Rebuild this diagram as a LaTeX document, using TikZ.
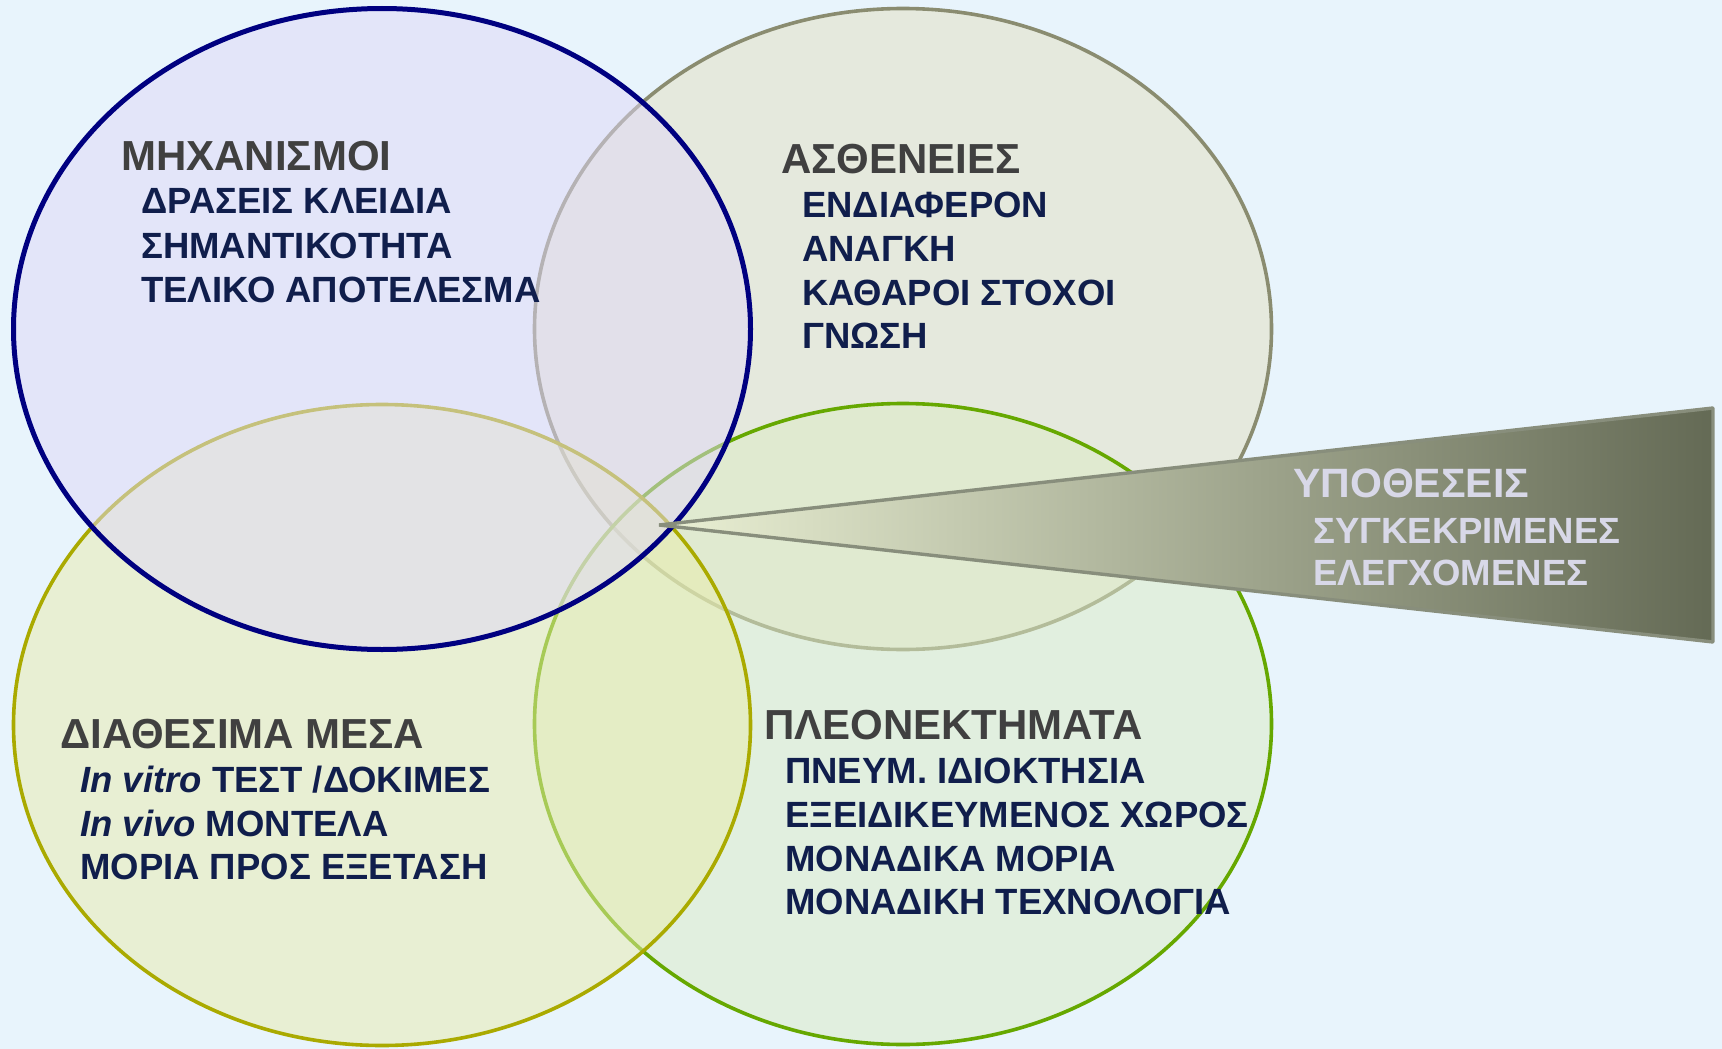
\documentclass[tikz,border=0pt]{standalone}
\usepackage{fontspec}
\setmainfont{Liberation Sans}
\usetikzlibrary{shapes.geometric}
\definecolor{bgblue}{RGB}{232,244,252}
\definecolor{mechline}{RGB}{0,0,128}
\definecolor{mechfill}{RGB}{224,216,248}
\definecolor{disline}{RGB}{138,140,112}
\definecolor{disfill}{RGB}{228,224,192}
\definecolor{resline}{RGB}{170,170,0}
\definecolor{resfill}{RGB}{232,236,172}
\definecolor{advline}{RGB}{102,168,0}
\definecolor{advfill}{RGB}{220,236,196}
\definecolor{headgrey}{RGB}{64,64,64}
\definecolor{itemnavy}{RGB}{16,30,76}
\definecolor{hyptext}{RGB}{216,216,232}
\definecolor{wedgeline}{RGB}{136,142,124}
\tikzset{x=1pt, y=-1pt, % picture measured in pixels, y going down
  ring/.style={ % Sets the properties for each circle of the diagram
    ellipse,
    minimum width=737pt,
    minimum height=641pt,
    fill opacity=0.5,
    line width=3.6pt},
  head/.style={ % Heading of each circle
    anchor=base west, inner sep=0pt,
    text=headgrey,
    font=\fontsize{42}{48}\selectfont\bfseries},
  item/.style={ % Lines under a heading
    anchor=base west, inner sep=0pt,
    text=itemnavy,
    font=\fontsize{36.5}{42}\selectfont\bfseries}}

\begin{document}
\begin{tikzpicture}
  \fill[bgblue] (0,0) rectangle (1722,1049);
  \useasboundingbox (0,0) rectangle (1722,1049);
  % the four circles
  \node[ring, draw=disline, fill=disfill] (dis) at (903,329) {};
  \node[ring, draw=advline, fill=advfill] (adv) at (903,724) {};
  \node[ring, draw=resline, fill=resfill] (res) at (382,725) {};
  \node[ring, draw=mechline, fill=mechfill, line width=5pt] (mech) at (382,329) {};
  % the wedge
  \coordinate (apex) at (659,525);
  \shadedraw[left color={rgb,255:red,234;green,240;blue,212},
    middle color={rgb,255:red,184;green,192;blue,160},
    right color={rgb,255:red,100;green,106;blue,85},
    draw=wedgeline, line width=3.4pt, line join=bevel]
    (apex) -- (1713,408) -- (1713,642) -- cycle;
  % texts
  \node[head] (mechhead) at (121,170) {ΜΗΧΑΝΙΣΜΟΙ};
  \node[item] (mech1) at (141,213) {ΔΡΑΣΕΙΣ ΚΛΕΙΔΙΑ};
  \node[item] (mech2) at (141,258) {ΣΗΜΑΝΤΙΚΟΤΗΤΑ};
  \node[item] (mech3) at (141,302) {ΤΕΛΙΚΟ ΑΠΟΤΕΛΕΣΜΑ};
  \node[head] (dishead) at (781,173) {ΑΣΘΕΝΕΙΕΣ};
  \node[item] (dis1) at (802,217) {ΕΝΔΙΑΦΕΡΟΝ};
  \node[item] (dis2) at (802,261) {ΑΝΑΓΚΗ};
  \node[item] (dis3) at (802,305) {ΚΑΘΑΡΟΙ ΣΤΟΧΟΙ};
  \node[item] (dis4) at (802,348) {ΓΝΩΣΗ};
  \node[head] (reshead) at (60,748) {ΔΙΑΘΕΣΙΜΑ ΜΕΣΑ};
  \node[item] (res1) at (80,792) {\textit{In vitro} ΤΕΣΤ /ΔΟΚΙΜΕΣ};
  \node[item] (res2) at (80,836) {\textit{In vivo} ΜΟΝΤΕΛΑ};
  \node[item] (res3) at (80,879) {ΜΟΡΙΑ ΠΡΟΣ ΕΞΕΤΑΣΗ};
  \node[head] (advhead) at (764,739) {ΠΛΕΟΝΕΚΤΗΜΑΤΑ};
  \node[item] (adv1) at (785,783) {ΠΝΕΥΜ. ΙΔΙΟΚΤΗΣΙΑ};
  \node[item] (adv2) at (785,827) {ΕΞΕΙΔΙΚΕΥΜΕΝΟΣ ΧΩΡΟΣ};
  \node[item] (adv3) at (785,871) {ΜΟΝΑΔΙΚΑ ΜΟΡΙΑ};
  \node[item] (adv4) at (785,914) {ΜΟΝΑΔΙΚΗ ΤΕΧΝΟΛΟΓΙΑ};
  \node[head, text=hyptext, font=\fontsize{41}{48}\selectfont\bfseries] (hyphead) at (1293,497) {ΥΠΟΘΕΣΕΙΣ};
  \node[item, text=hyptext] (hyp1) at (1313,543) {ΣΥΓΚΕΚΡΙΜΕΝΕΣ};
  \node[item, text=hyptext] (hyp2) at (1313,585) {ΕΛΕΓΧΟΜΕΝΕΣ};
\end{tikzpicture}
\end{document}
